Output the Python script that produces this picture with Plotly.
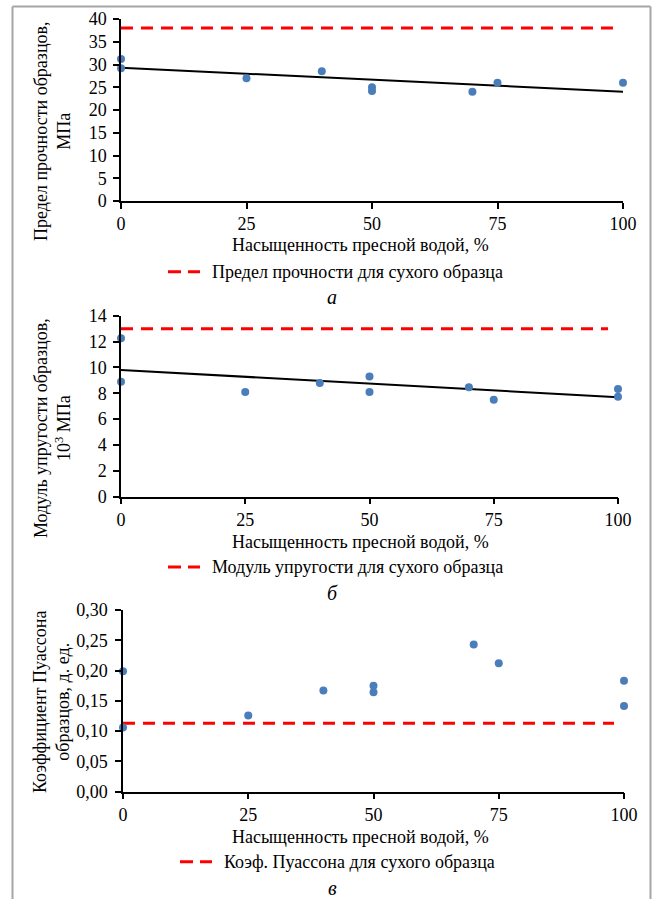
import plotly.graph_objects as go

W, H = 655, 899

# ---------------- data ----------------
x_ticks = [0, 25, 50, 75, 100]
x_tick_labels = ["0", "25", "50", "75", "100"]

# (a) strength
sat_a = [0, 0, 25, 40, 50, 50, 70, 75, 100]
strength = [31.2, 29.2, 27.0, 28.5, 25.0, 24.2, 24.0, 26.0, 26.0]
trend_a_x = [0, 100]
trend_a_y = [29.3, 24.0]
dry_strength = 38
y_ticks_a = [0, 5, 10, 15, 20, 25, 30, 35, 40]

# (б) modulus
sat_b = [0, 0, 25, 40, 50, 50, 70, 75, 100, 100]
modulus = [12.25, 8.9, 8.1, 8.8, 9.3, 8.1, 8.46, 7.5, 8.33, 7.73]
trend_b_x = [0, 100]
trend_b_y = [9.8, 7.7]
dry_modulus = 13
y_ticks_b = [0, 2, 4, 6, 8, 10, 12, 14]

# (в) Poisson
sat_c = [0, 0, 25, 40, 50, 50, 70, 75, 100, 100]
poisson = [0.199, 0.106, 0.126, 0.167, 0.175, 0.164, 0.243, 0.212, 0.183, 0.1415]
dry_poisson = 0.113
y_ticks_c = [0.0, 0.05, 0.10, 0.15, 0.20, 0.25, 0.30]
y_tick_labels_c = ["0,00", "0,05", "0,10", "0,15", "0,20", "0,25", "0,30"]

ref_line_x = [0, 98]

x_title = "Насыщенность пресной водой, %"
y_title_a = "Предел прочности образцов,<br>МПа"
y_title_b = "Модуль упругости образцов,<br>10<sup>3</sup> МПа"
y_title_c = "Коэффициент Пуассона<br>образцов, д. ед."
legend_a = "Предел прочности для сухого образца"
legend_b = "Модуль упругости для сухого образца"
legend_c = "Коэф. Пуассона для сухого образца"
captions = ["а", "б", "в"]

# ---------------- styling ----------------
FONT = "Liberation Serif, Times New Roman, serif"
FS = 18
BLUE = "#4A7EBB"
RED = "#FF0000"


def px(x):
    return x / W


def py(y):
    return 1 - y / H


# panel geometry (pixels): x_left, x_right, y_top, y_bottom
panels = [
    (121, 623, 19, 201),
    (121, 618, 315.7, 496.7),
    (123, 624, 610, 791.7),
]
label_standoff = [3, 3, 4]

fig = go.Figure()

series = [
    (sat_a, strength, trend_a_x, trend_a_y, dry_strength),
    (sat_b, modulus, trend_b_x, trend_b_y, dry_modulus),
    (sat_c, poisson, None, None, dry_poisson),
]

for i, (sx, sy, tx, ty, dry) in enumerate(series):
    xa = "x" if i == 0 else f"x{i+1}"
    ya = "y" if i == 0 else f"y{i+1}"
    fig.add_trace(go.Scatter(
        x=ref_line_x, y=[dry, dry], mode="lines", xaxis=xa, yaxis=ya,
        line=dict(color=RED, width=3, dash="12px,8px"), showlegend=False,
        hoverinfo="skip", cliponaxis=False))
    if tx is not None:
        fig.add_trace(go.Scatter(
            x=tx, y=ty, mode="lines", xaxis=xa, yaxis=ya,
            line=dict(color="black", width=2), showlegend=False,
            cliponaxis=False))
    fig.add_trace(go.Scatter(
        x=sx, y=sy, mode="markers", xaxis=xa, yaxis=ya,
        marker=dict(color=BLUE, size=8), showlegend=False,
        cliponaxis=False))

yranges = [[0, 40], [0, 14], [0, 0.30]]
yticks = [
    (y_ticks_a, [str(v) for v in y_ticks_a]),
    (y_ticks_b, [str(v) for v in y_ticks_b]),
    (y_ticks_c, y_tick_labels_c),
]

layout = dict(
    width=W, height=H,
    margin=dict(l=0, r=0, t=0, b=0, autoexpand=False),
    paper_bgcolor="white", plot_bgcolor="white",
    font=dict(family=FONT, size=FS, color="black"),
    showlegend=False,
)

for i, (xl, xr, yt, yb) in enumerate(panels):
    xk = "xaxis" if i == 0 else f"xaxis{i+1}"
    yk = "yaxis" if i == 0 else f"yaxis{i+1}"
    xa = "x" if i == 0 else f"x{i+1}"
    ya = "y" if i == 0 else f"y{i+1}"
    layout[xk] = dict(
        domain=[px(xl), px(xr)], anchor=ya, range=[0, 100],
        tickvals=x_ticks, ticktext=x_tick_labels, automargin=False,
        showline=True, linecolor="black", linewidth=1.5,
        ticks="outside", ticklen=6, tickcolor="black", tickwidth=1.5,
        showgrid=False, zeroline=False,
        tickfont=dict(family=FONT, size=FS, color="black"),
    )
    layout[yk] = dict(
        domain=[py(yb), py(yt)], anchor=xa, range=yranges[i],
        tickvals=yticks[i][0], ticktext=yticks[i][1], automargin=False,
        showline=True, linecolor="black", linewidth=1.5,
        ticks="outside", ticklen=6, tickcolor="black", tickwidth=1.5,
        ticklabelstandoff=label_standoff[i],
        showgrid=False, zeroline=False,
        tickfont=dict(family=FONT, size=FS, color="black"),
    )

fig.update_layout(**layout)

annotations = []
shapes = []

# y-axis titles
ytitles = [(y_title_a, 52, 131), (y_title_b, 52, 428), (y_title_c, 51, 702)]
for text, xc, yc in ytitles:
    annotations.append(dict(
        text=text, x=px(xc), y=py(yc), xref="paper", yref="paper",
        xanchor="center", yanchor="middle", textangle=-90, showarrow=False,
        align="center", font=dict(family=FONT, size=FS, color="black")))

# x-axis titles, legends and captions
below = [
    # title_y, legend_y, dash_x0, dash_x1, text_x, legend_text, caption_y
    (245, 271.7, 168, 200, 210, legend_a, 297),
    (541.5, 567, 168, 200, 210, legend_b, 593),
    (836.7, 861.7, 180, 212, 222, legend_c, 888),
]
for i, (ty, ly, d0, d1, tx, ltext, cy) in enumerate(below):
    annotations.append(dict(
        text=x_title, x=px(360), y=py(ty), xref="paper", yref="paper",
        xanchor="center", yanchor="middle", showarrow=False,
        font=dict(family=FONT, size=FS, color="black")))
    annotations.append(dict(
        text=ltext, x=px(tx), y=py(ly), xref="paper", yref="paper",
        xanchor="left", yanchor="middle", showarrow=False,
        font=dict(family=FONT, size=FS, color="black")))
    shapes.append(dict(
        type="line", xref="paper", yref="paper",
        x0=px(d0), x1=px(d1), y0=py(ly), y1=py(ly),
        line=dict(color=RED, width=3, dash="13px,7px")))
    annotations.append(dict(
        text=f"<i>{captions[i]}</i>", x=px(332), y=py(cy), xref="paper",
        yref="paper", xanchor="center", yanchor="middle", showarrow=False,
        font=dict(family=FONT, size=FS + 2, color="black")))

# outer frame (drawn as separate edges)
FRAME = "#A6A6A6"
frame_edges = [
    (12.5, 6.5, 650.5, 6.5),
    (12.5, 6.5, 12.5, 899),
    (650.5, 6.5, 650.5, 899),
]
for x0, y0, x1, y1 in frame_edges:
    shapes.append(dict(
        type="line", xref="paper", yref="paper",
        x0=px(x0), x1=px(x1), y0=py(y0), y1=py(y1),
        line=dict(color=FRAME, width=2), layer="above"))

fig.update_layout(annotations=annotations, shapes=shapes)

fig.write_html(
    "out.html",
    config={"displayModeBar": False},
    post_script="document.body.style.margin='0';document.body.style.overflow='hidden';",
)
